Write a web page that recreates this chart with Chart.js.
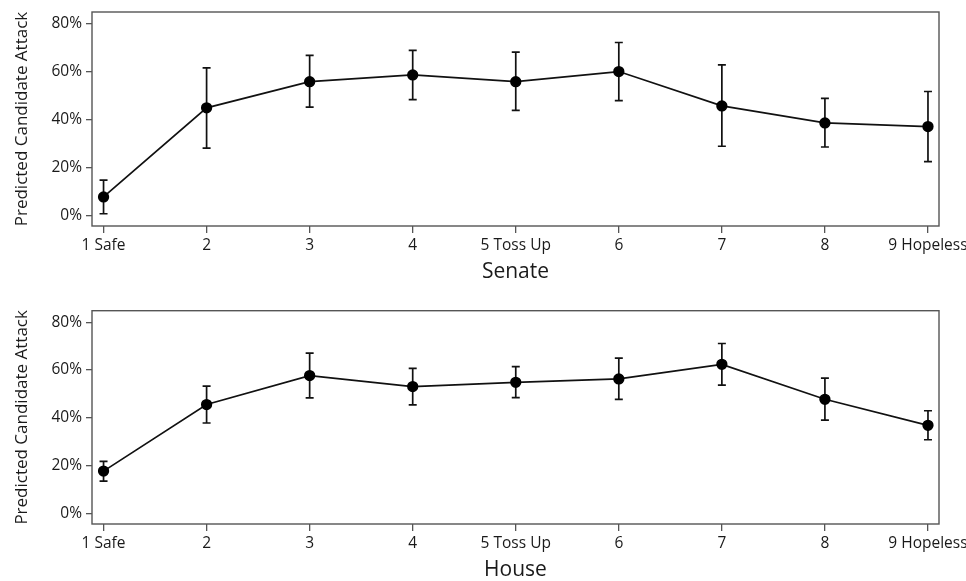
<!DOCTYPE html>
<html>
<head>
<meta charset="utf-8">
<script src="https://cdn.jsdelivr.net/npm/chart.js@4/dist/chart.umd.min.js"></script>
<style>
  body { margin: 0; background: #fff; }
  .panel { position: absolute; left: 0; width: 966px; }
</style>
</head>
<body>
<div class="panel" style="top:0;height:290px"><canvas id="senateChart"></canvas></div>
<div class="panel" style="top:290px;height:291px"><canvas id="houseChart"></canvas></div>
<script>
const categories = ["1 Safe", "2", "3", "4", "5 Toss Up", "6", "7", "8", "9 Hopeless"];
const yTicks = [0, 20, 40, 60, 80];

const senateMean = [7.8, 44.9, 55.8, 58.6, 55.8, 60.0, 45.7, 38.6, 37.1];
const senateLow  = [0.8, 28.1, 45.2, 48.3, 43.8, 47.9, 28.9, 28.6, 22.5];
const senateHigh = [14.8, 61.5, 66.7, 68.8, 68.1, 72.1, 62.8, 48.8, 51.7];

const houseMean = [17.8, 45.6, 57.7, 53.1, 54.9, 56.3, 62.4, 47.8, 36.9];
const houseLow  = [13.6, 37.9, 48.4, 45.5, 48.5, 47.8, 53.7, 39.1, 30.9];
const houseHigh = [21.9, 53.3, 67.1, 60.7, 61.4, 65.0, 71.1, 56.6, 43.0];

const font = "'Open Sans', 'DejaVu Sans', sans-serif";
const textColor = "#1a1a1a";

// error bars + frame, drawn with the chart's own scales
const errorBars = {
  id: "errorBars",
  beforeDatasetsDraw(chart, args, opts) {
    const { ctx, scales: { x, y } } = chart;
    ctx.save();
    ctx.strokeStyle = "#111";
    ctx.lineWidth = 1.7;
    opts.low.forEach((lo, i) => {
      const px = x.getPixelForValue(i + 1);
      const top = y.getPixelForValue(opts.high[i]);
      const bot = y.getPixelForValue(lo);
      ctx.beginPath();
      ctx.moveTo(px, top); ctx.lineTo(px, bot);
      ctx.moveTo(px - 4, top); ctx.lineTo(px + 4, top);
      ctx.moveTo(px - 4, bot); ctx.lineTo(px + 4, bot);
      ctx.stroke();
    });
    ctx.restore();
  },
  afterDraw(chart) {
    const { ctx, chartArea: a } = chart;
    ctx.save();
    ctx.strokeStyle = "#555";
    ctx.lineWidth = 1.4;
    ctx.strokeRect(a.left, a.top, a.right - a.left, a.bottom - a.top);
    ctx.restore();
  }
};

function makeChart(id, title, mean, low, high, padTop, xHeight, titlePad) {
  const ctx = document.getElementById(id).getContext("2d");
  return new Chart(ctx, {
    type: "line",
    data: {
      datasets: [{
        data: mean.map((v, i) => ({ x: i + 1, y: v })),
        borderColor: "#111",
        borderWidth: 1.7,
        pointRadius: 4.8,
        pointBackgroundColor: "#000",
        pointBorderColor: "#000",
        tension: 0
      }]
    },
    options: {
      responsive: true,
      maintainAspectRatio: false,
      animation: false,
      layout: { padding: { top: padTop, right: 27, left: 0, bottom: 0 } },
      plugins: {
        legend: { display: false },
        tooltip: { enabled: false },
        errorBars: { low: low, high: high }
      },
      scales: {
        x: {
          type: "linear",
          min: 0.888,
          max: 9.107,
          afterBuildTicks: s => { s.ticks = categories.map((c, i) => ({ value: i + 1 })); },
          afterFit: s => { s.height = xHeight; s.paddingLeft = 0; s.paddingRight = 0; },
          ticks: {
            callback: v => categories[v - 1],
            color: textColor,
            font: { family: font, size: 15.5 },
            padding: 3,
            maxRotation: 0,
            autoSkip: false
          },
          grid: { drawOnChartArea: false, tickLength: 7, color: "#555", lineWidth: 1.3 },
          border: { display: false },
          title: {
            display: true,
            text: title,
            color: textColor,
            font: { family: font, size: 21 },
            padding: { top: 0, bottom: titlePad }
          }
        },
        y: {
          min: -4.3,
          max: 84.8,
          afterBuildTicks: s => { s.ticks = yTicks.map(v => ({ value: v })); },
          afterFit: s => { s.width = 92; s.paddingTop = 0; s.paddingBottom = 0; },
          ticks: {
            callback: v => v + "%",
            color: textColor,
            font: { family: font, size: 15.5 },
            padding: 4
          },
          grid: { drawOnChartArea: false, tickLength: 6, color: "#555", lineWidth: 1.3 },
          border: { display: false },
          title: {
            display: true,
            text: "Predicted Candidate Attack",
            color: textColor,
            font: { family: font, size: 17 },
            padding: { top: 12, bottom: 0 }
          }
        }
      }
    },
    plugins: [errorBars]
  });
}

makeChart("senateChart", "Senate", senateMean, senateLow, senateHigh, 12, 64, 5);
makeChart("houseChart", "House", houseMean, houseLow, houseHigh, 20.7, 57, -2);
</script>
</body>
</html>
